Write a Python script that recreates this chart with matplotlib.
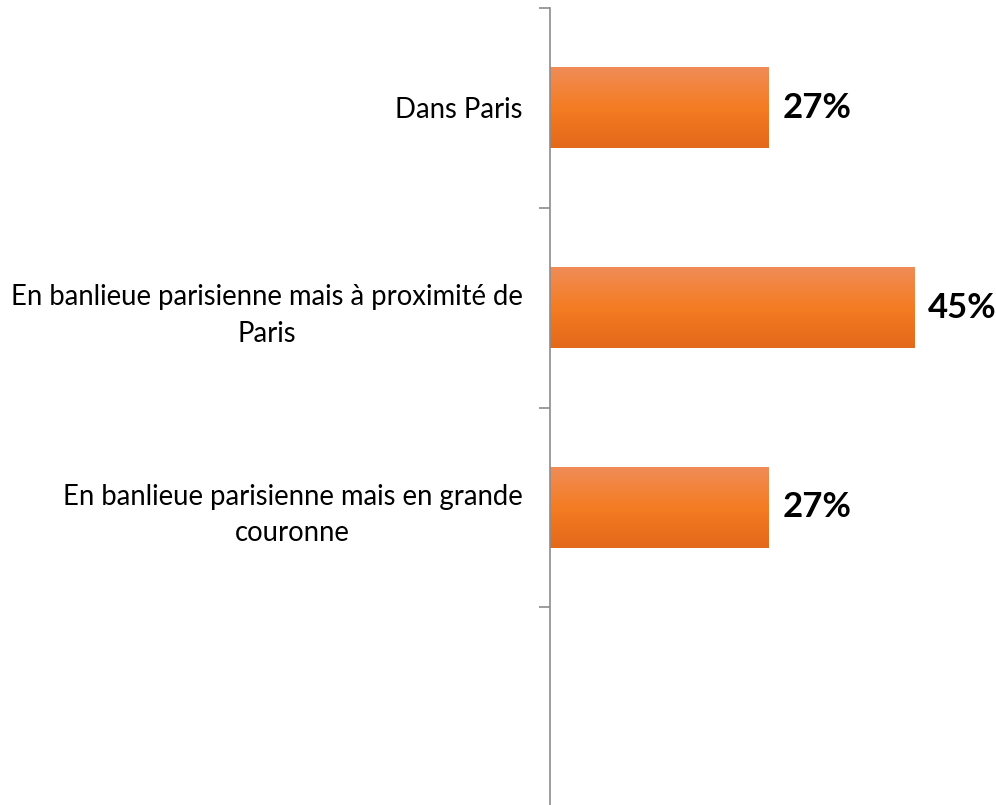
import numpy as np
import matplotlib
matplotlib.use('Agg')
import matplotlib.pyplot as plt
from matplotlib.colors import LinearSegmentedColormap

plt.rcParams['font.family'] = ['Lato', 'DejaVu Sans']

categories = ['Dans Paris',
              'En banlieue parisienne mais à proximité de\nParis',
              'En banlieue parisienne mais en grande\ncouronne',
              '']
values = [27, 45, 27, None]
value_labels = ['27%', '45%', '27%', '']

degrade = LinearSegmentedColormap.from_list('orange', ['#f08c58', '#f47c22', '#e4681a'])

fig = plt.figure(figsize=(9.96, 8.05), dpi=100)
ax = fig.add_axes([549.5 / 996, -0.0025, 407.5 / 996, 0.9925])

pos = np.arange(len(categories))
ancho = [v if v is not None else 0 for v in values]
barras = ax.barh(pos, ancho, height=0.405, color='#f37c22', linewidth=0)

# degradé vertical dans chaque barre (clair en haut)
grad = np.linspace(0, 1, 256).reshape(-1, 1)
for b in barras:
    if b.get_width() == 0:
        continue
    x0, y0 = b.get_x(), b.get_y()
    im = ax.imshow(grad, cmap=degrade, aspect='auto', origin='upper',
                   extent=[x0, x0 + b.get_width(), y0 + b.get_height(), y0],
                   zorder=2)
    im.set_clip_path(b)

for p, v, t in zip(pos, values, value_labels):
    if v is None:
        continue
    ax.text(v + 1.75, p, t, va='center', ha='left', fontsize=25,
            fontweight='bold', color='black')

ax.set_xlim(0, 50.3)
ax.set_ylim(len(categories) - 0.5, -0.5)

ax.set_yticks(np.arange(len(categories)) - 0.5)
ax.set_yticklabels([])
ax.set_yticks(pos, minor=True)
ax.set_yticklabels(categories, minor=True, fontsize=19.8)
for lab in ax.get_yticklabels(minor=True):
    lab.set_multialignment('center')
    lab.set_linespacing(1.5)
ax.tick_params(axis='y', which='major', length=8, width=1.2, color='#8c8c8c')
ax.tick_params(axis='y', which='minor', length=0, pad=19.5)
ax.set_xticks([])

for s in ['top', 'right', 'bottom']:
    ax.spines[s].set_visible(False)
ax.spines['left'].set_color('#8c8c8c')
ax.spines['left'].set_linewidth(1.2)

fig.savefig('out.png', dpi=100)
